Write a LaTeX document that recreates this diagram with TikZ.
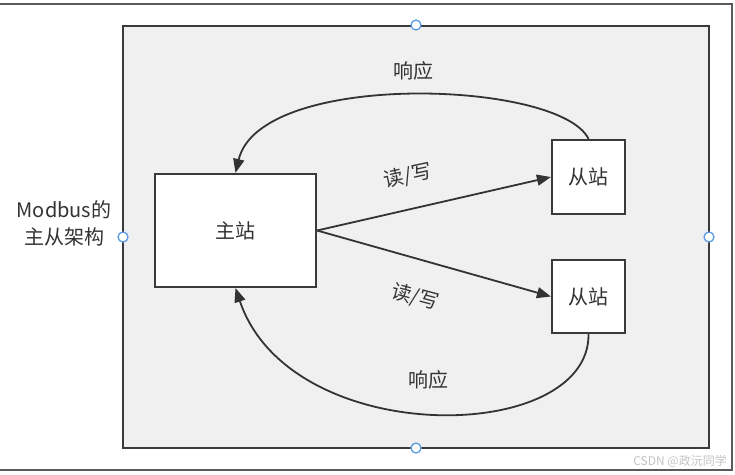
\documentclass[tikz,border=0pt]{standalone}
\usepackage{fontspec}
\setmainfont{Noto Sans CJK SC}
\usetikzlibrary{arrows.meta}
\definecolor{linec}{HTML}{333333}
\definecolor{boxc}{HTML}{3A3A3A}
\definecolor{panelfill}{HTML}{F0F0F0}
\definecolor{outerc}{HTML}{5A5A5A}
\definecolor{handlec}{HTML}{5B9BE6}
\definecolor{textc}{HTML}{333333}
\definecolor{wmc}{HTML}{C4C4C4}
\tikzset{
  stationbox/.style={draw=boxc, fill=white, line width=2.2pt, inner sep=0pt,
    font=\fontsize{20}{24}\selectfont, text=textc},
  arr/.style={draw=linec, line width=1.8pt,
    -{Triangle[length=14pt,width=11pt]}},
  lbl/.style={font=\fontsize{20}{24}\selectfont, text=textc, inner sep=0pt},
  handle/.style={circle, draw=handlec, fill=white, line width=1.3pt,
    minimum size=10pt, inner sep=0pt},
}
\begin{document}
\begin{tikzpicture}[x=1pt,y=-1pt]
\useasboundingbox (0,0) rectangle (735,474);
\fill[white] (0,0) rectangle (735,474);
% outer frame
\draw[outerc, line width=2pt] (0,4) -- (732,4) -- (732,470) -- (0,470);
% panel
\draw[draw=boxc, fill=panelfill, line width=2pt] (123,26) rectangle (709,448);
% stations
\node[stationbox, minimum width=161pt, minimum height=113pt] (m) at (235.5,230.5) {主站};
\node[stationbox, minimum width=73pt, minimum height=74pt] (s1) at (588.5,177) {从站};
\node[stationbox, minimum width=73pt, minimum height=73pt] (s2) at (588.5,296.5) {从站};
% read/write arrows
\draw[arr] (m.east) -- (s1.west);
\draw[arr] (m.east) -- (s2.west);
% response arcs
\draw[arr] (s1.north) .. controls (560,80) and (260,70) .. (m.north);
\draw[arr] (s2.south) .. controls (590,445) and (290,450) .. (m.south);
% labels
\node[lbl, rotate=12] (rw1) at (408,176) {读/写};
\node[lbl, rotate=-15] (rw2) at (415,297) {读/写};
\node[lbl] (resp1) at (413,71) {响应};
\node[lbl] (resp2) at (428,380) {响应};
\node[lbl, align=center, font=\fontsize{20}{27}\selectfont] (title) at (64,223) {Modbus的\\主从架构};
% handles
\node[handle] (h1) at (416,25) {};
\node[handle] (h2) at (123,237) {};
\node[handle] (h3) at (709,237) {};
\node[handle] (h4) at (416,448) {};
% watermark
\node[text=wmc, font=\fontsize{12}{14}\selectfont, inner sep=0pt, anchor=east] (wm) at (727,461) {CSDN @政沅同学};
\end{tikzpicture}
\end{document}
